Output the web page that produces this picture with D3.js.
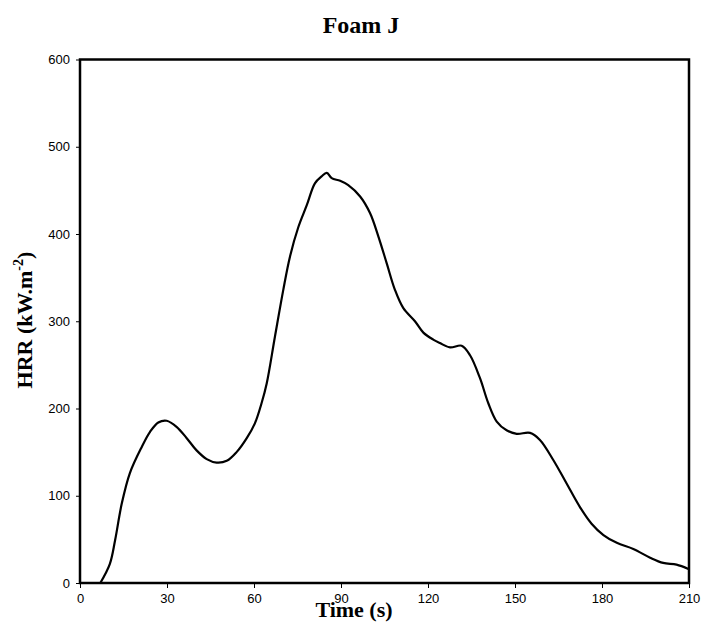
<!DOCTYPE html>
<html><head><meta charset="utf-8">
<script src="https://cdn.jsdelivr.net/npm/d3@7"></script>
<style>body{margin:0;background:#fff}svg{display:block}</style>
</head><body>
<script>
const time = [7,10.3,12.1,14.4,17.2,21.3,24.1,27,29.9,33.3,36.8,40.2,43.7,47.1,50.6,54,57.5,60.3,62.6,64.4,67.2,70.1,72.4,75.3,78.2,81,83.3,85.1,86.8,89.7,92.5,96.6,100,102.9,105.8,108.6,111.5,115.5,118.4,121.8,124.1,127.6,131.6,134.5,137.9,140.8,143.7,147.1,150.6,155.2,158.6,163.2,167.8,172.4,176.4,180.5,185.1,190.8,196.6,201.1,205.7,209.8];
const hrr  = [0,22,49,91,126,156,173,184,186,179,166,152,142,138,140,150,166,183,206,229,282,336,374,408,433,458,466,470,464,461,456,443,424,397,366,336,315,300,287,279,275,270,272,261,235,206,185,175,171,172,164,141,114,87,68,55,46,39,29,23,21,16];
const xTicks = [0,30,60,90,120,150,180,210];
const yTicks = [0,100,200,300,400,500,600];

const W = 701, H = 626;
const m = {l:80, r:689, t:59.5, b:583};
const svg = d3.select("body").append("svg").attr("width",W).attr("height",H);
const x = d3.scaleLinear().domain([0,210]).range([m.l,m.r]);
const y = d3.scaleLinear().domain([0,600]).range([m.b,m.t]);

const xAxis = svg.append("g").attr("transform",`translate(0,${m.b})`)
  .call(d3.axisBottom(x).tickValues(xTicks).tickSize(5).tickPadding(6));
const yAxis = svg.append("g").attr("transform",`translate(${m.l},0)`)
  .call(d3.axisLeft(y).tickValues(yTicks).tickSize(4).tickPadding(6));
[xAxis,yAxis].forEach(a=>{
  a.select(".domain").remove();
  a.selectAll("line").attr("stroke","#000").attr("stroke-width",1);
  a.selectAll("text").attr("font-family","Liberation Sans, Arial, sans-serif").attr("font-size",13).attr("fill","#000");
});

svg.append("rect").attr("x",m.l).attr("y",m.t).attr("width",m.r-m.l).attr("height",m.b-m.t)
  .attr("fill","none").attr("stroke","#000").attr("stroke-width",2.5);

const line = d3.line().x((d,i)=>x(time[i])).y((d,i)=>y(hrr[i])).curve(d3.curveCatmullRom.alpha(0.5));
svg.append("path").datum(hrr).attr("d",line).attr("fill","none").attr("stroke","#000").attr("stroke-width",2.2).attr("stroke-linejoin","round");

svg.append("text").attr("x",361).attr("y",33).attr("text-anchor","middle")
  .attr("font-family","Liberation Serif, Times New Roman, serif").attr("font-weight","bold").attr("font-size",24).text("Foam J");
svg.append("text").attr("x",354).attr("y",617).attr("text-anchor","middle")
  .attr("font-family","Liberation Serif, Times New Roman, serif").attr("font-weight","bold").attr("font-size",22).text("Time (s)");
const yl = svg.append("text").attr("transform","translate(32,320) rotate(-90)").attr("text-anchor","middle")
  .attr("font-family","Liberation Serif, Times New Roman, serif").attr("font-weight","bold").attr("font-size",22);
yl.append("tspan").text("HRR (kW.m");
yl.append("tspan").attr("dy",-9).attr("font-size",14).text("-2");
yl.append("tspan").attr("dy",9).text(")");
</script>
</body></html>
